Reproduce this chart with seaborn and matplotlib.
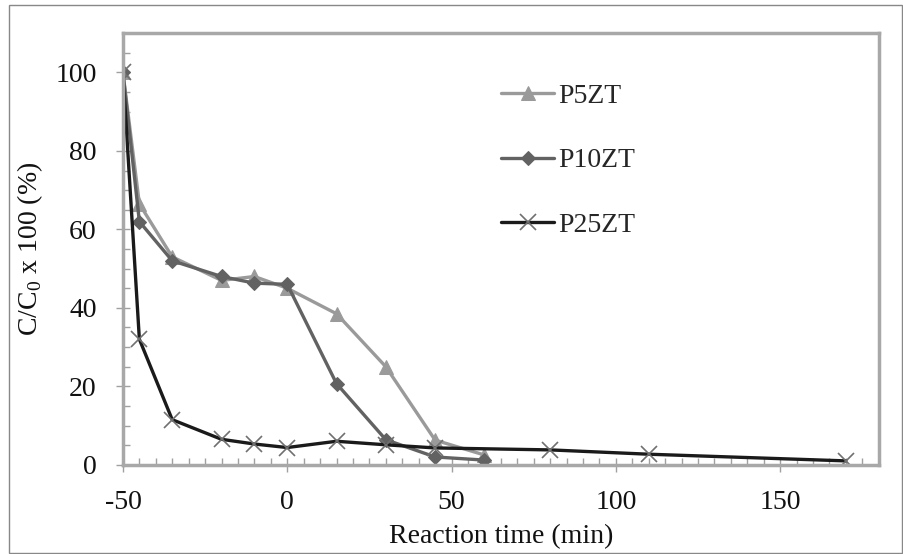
import numpy as np
import pandas as pd
import matplotlib
matplotlib.use("Agg")
import matplotlib.pyplot as plt
from matplotlib.ticker import MultipleLocator
from matplotlib.patches import Rectangle
import seaborn as sns

# data
t_p5 = [-50, -45, -35, -20, -10, 0, 15, 30, 45, 60]
c_p5 = [100, 66.5, 53, 47, 48, 45, 38.5, 25, 6.3, 2.5]

t_p10 = [-50, -45, -35, -20, -10, 0, 15, 30, 45, 60]
c_p10 = [100, 62, 52, 48, 46.3, 46, 20.7, 6.4, 2.0, 1.2]

t_p25 = [-50, -45, -35, -20, -10, 0, 15, 30, 45, 80, 110, 170]
c_p25 = [100, 32, 11.5, 6.5, 5.3, 4.4, 6.0, 5.1, 4.3, 3.8, 2.7, 1.0]

sns.set_style("white")
plt.rcParams['font.family'] = ['Liberation Serif', 'DejaVu Serif']
plt.rcParams['mathtext.fontset'] = 'custom'
plt.rcParams['mathtext.rm'] = 'Liberation Serif'
plt.rcParams['axes.unicode_minus'] = False

fig = plt.figure(figsize=(9.04, 5.54), dpi=100)
ax = fig.add_axes([0.136, 0.161, 0.836, 0.779])

sns.lineplot(x=t_p5, y=c_p5, ax=ax, color='#9a9a9a', lw=2.4, marker='^',
             markersize=10, markeredgecolor='#9a9a9a', label='P5ZT')
sns.lineplot(x=t_p10, y=c_p10, ax=ax, color='#626262', lw=2.4, marker='D',
             markersize=7, markeredgecolor='#626262', label='P10ZT')
sns.lineplot(x=t_p25, y=c_p25, ax=ax, color='#1a1a1a', lw=2.4, marker='x',
             markersize=11, markeredgewidth=1.2, markeredgecolor='#707070', label='P25ZT')

ax.set_xlim(-50, 180)
ax.set_ylim(0, 110)
ax.xaxis.set_major_locator(MultipleLocator(50))
ax.xaxis.set_minor_locator(MultipleLocator(5))
ax.yaxis.set_minor_locator(MultipleLocator(5))
ax.set_yticks([0, 20, 40, 60, 80, 100])

for s in ax.spines.values():
    s.set_color('#a8a8a8')
    s.set_linewidth(2.5)

ax.tick_params(which='major', direction='inout', length=10, width=1, color='#a0a0a0',
               labelsize=20, labelcolor='#111111')
ax.tick_params(which='minor', direction='in', length=5, width=1, color='#a0a0a0')
ax.tick_params(axis='x', which='major', pad=13)
ax.tick_params(axis='y', which='major', pad=14)
ax.tick_params(axis='x', which='both', bottom=True)
ax.tick_params(axis='y', which='both', left=True)

ax.set_xlabel('Reaction time (min)', fontsize=20, labelpad=7, color='#111111')
ax.set_ylabel('C/C$_0$ x 100 (%)', fontsize=20, labelpad=7, color='#111111')

leg = ax.legend(loc='upper left', bbox_to_anchor=(0.4675, 0.9415), frameon=False,
                fontsize=20, handlelength=1.9, handletextpad=0.15, labelspacing=1.4)

fig.patches.append(Rectangle((0.01, 0.002), 0.988, 0.989, transform=fig.transFigure,
                             fill=False, edgecolor='#888888', lw=1))

fig.savefig('out.png', dpi=100)
